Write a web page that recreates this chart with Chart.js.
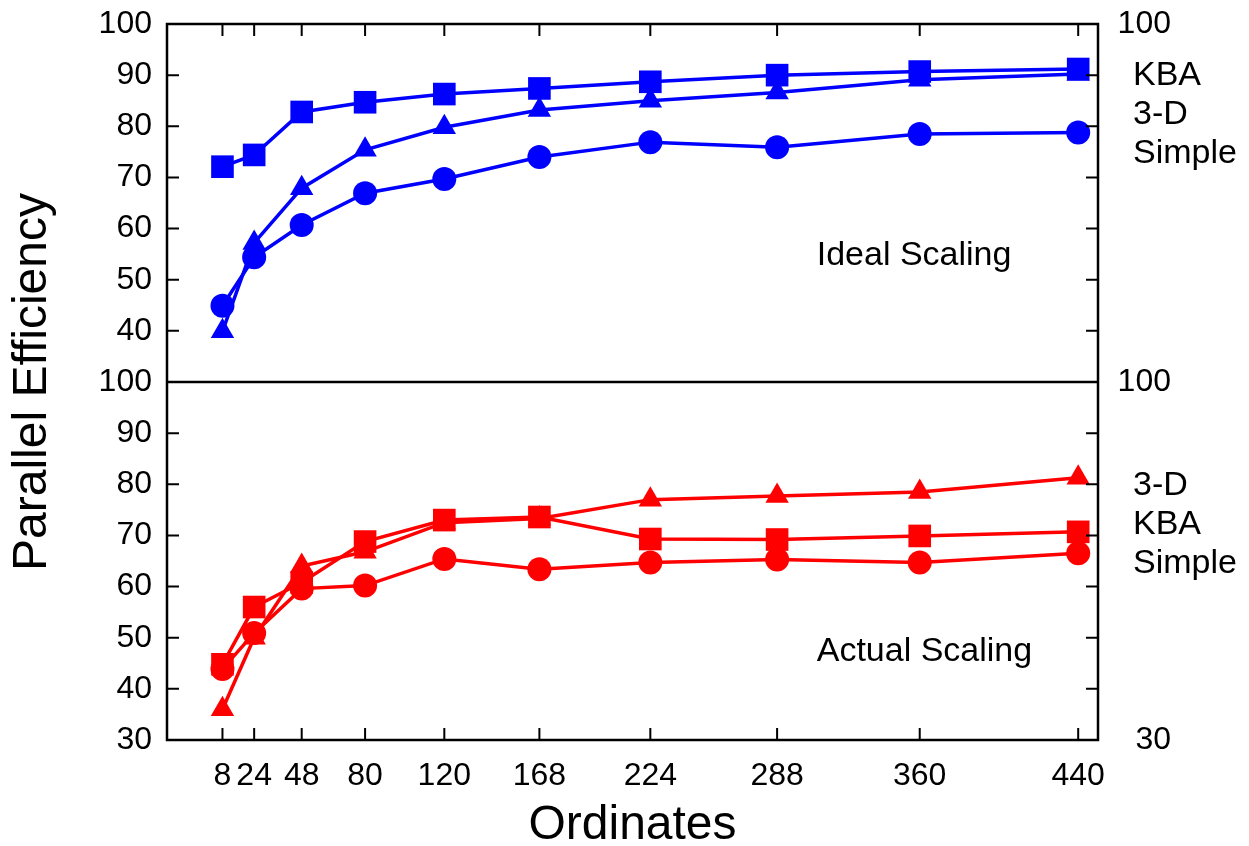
<!DOCTYPE html>
<html>
<head>
<meta charset="utf-8">
<script src="https://cdn.jsdelivr.net/npm/chart.js@4.4.1/dist/chart.umd.min.js"></script>
<style>
  html, body { margin: 0; padding: 0; background: #ffffff; }
  #wrap { width: 1249px; height: 846px; }
</style>
</head>
<body>
<div id="wrap"><canvas id="effChart" width="1249" height="846"></canvas></div>
<script>
// number of ordinates (x values shared by every series)
const ordinates = [8, 24, 48, 80, 120, 168, 224, 288, 360, 440];
const xTickValues = [8, 24, 48, 80, 120, 168, 224, 288, 360, 440];

// upper panel: ideal scaling
const idealKBA = [72.1, 74.4, 82.8, 84.7, 86.3, 87.4, 88.7, 90.0, 90.7, 91.2];
const ideal3D = [39.9, 57.2, 67.9, 75.4, 79.8, 83.2, 85.0, 86.6, 89.1, 90.2];
const idealSimple = [44.9, 54.4, 60.7, 66.9, 69.7, 74.0, 76.9, 75.9, 78.5, 78.8];

// lower panel: actual scaling
const actualKBA = [44.8, 56.0, 60.8, 68.8, 73.0, 73.6, 69.3, 69.2, 69.9, 70.7];
const actual3D = [36.0, 50.0, 64.0, 66.8, 72.5, 73.3, 77.0, 77.7, 78.5, 81.3];
const actualSimple = [43.9, 50.9, 59.6, 60.2, 65.4, 63.4, 64.7, 65.3, 64.7, 66.5];

const topLeftTicks = [40, 50, 60, 70, 80, 90, 100];
const bottomLeftTicks = [30, 40, 50, 60, 70, 80, 90, 100];
const topRightTicks = [100];
const bottomRightTicks = [30, 100];

const idealNames = ["KBA", "3-D", "Simple"];
const actualNames = ["3-D", "KBA", "Simple"];
const idealNote = "Ideal Scaling";
const actualNote = "Actual Scaling";

const blue = "#0000ff";
const red = "#ff0000";
const fontFamily = "\"Liberation Sans\", Arial, sans-serif";
Chart.defaults.font.family = fontFamily;
Chart.defaults.color = "#000000";

function series(values, color, style, radius, axis) {
  return {
    data: values.map((v, i) => ({ x: ordinates[i], y: v })),
    yAxisID: axis,
    borderColor: color,
    backgroundColor: color,
    borderWidth: 3.5,
    pointStyle: style,
    pointRadius: radius,
    pointBorderWidth: 0,
    pointBackgroundColor: color,
    tension: 0,
    fill: false
  };
}

function fixedTicks(values) {
  return (scale) => { scale.ticks = values.map((v) => ({ value: v })); };
}

const framePlugin = {
  id: "frame",
  afterDraw(chart) {
    const { ctx, chartArea: a, scales } = chart;
    const { x, yTop, yBot } = scales;
    const len = 12;
    ctx.save();
    ctx.strokeStyle = "#000000";
    ctx.lineWidth = 2.5;
    ctx.strokeRect(a.left, a.top, a.right - a.left, a.bottom - a.top);
    ctx.beginPath();
    ctx.moveTo(a.left, yTop.bottom);
    ctx.lineTo(a.right, yTop.bottom);
    ctx.stroke();

    // inward tick marks, mirrored on both sides
    ctx.lineWidth = 2;
    ctx.beginPath();
    x.ticks.forEach((t) => {
      const px = x.getPixelForValue(t.value);
      ctx.moveTo(px, a.bottom);
      ctx.lineTo(px, a.bottom - len);
      ctx.moveTo(px, a.top);
      ctx.lineTo(px, a.top + len);
    });
    [yTop, yBot].forEach((s) => {
      s.ticks.forEach((t) => {
        if (t.value <= s.min || t.value >= s.max) return;
        const py = s.getPixelForValue(t.value);
        ctx.moveTo(a.left, py);
        ctx.lineTo(a.left + len, py);
        ctx.moveTo(a.right, py);
        ctx.lineTo(a.right - len, py);
      });
    });
    ctx.stroke();

    ctx.fillStyle = "#000000";
    ctx.textBaseline = "middle";

    // y title spanning both panels
    ctx.save();
    ctx.font = "48px " + fontFamily;
    ctx.textAlign = "center";
    ctx.translate(33, (a.top + a.bottom) / 2);
    ctx.rotate(-Math.PI / 2);
    ctx.fillText("Parallel Efficiency", 0, 0);
    ctx.restore();

    ctx.font = "34px " + fontFamily;
    ctx.textAlign = "left";
    const noteX = x.getPixelForValue(308);
    ctx.fillText(idealNote, noteX, yTop.getPixelForValue(54.7));
    ctx.fillText(actualNote, noteX, yBot.getPixelForValue(47.3));

    const nameX = a.right + 35;
    idealNames.forEach((n, i) => ctx.fillText(n, nameX, yTop.top + 52 + i * 39));
    actualNames.forEach((n, i) => ctx.fillText(n, nameX, yBot.top + 104 + i * 39));
    ctx.restore();
  }
};

const tickFont = { size: 32 };
const yTickFont = { size: 32, lineHeight: 0.5 };

function leftAxis(ticks) {
  return {
    type: "linear",
    position: "left",
    stack: "left",
    stackWeight: 1,
    min: 30,
    max: 100,
    afterBuildTicks: fixedTicks(ticks),
    afterFit: (s) => { s.width = 167; },
    grid: { display: false, drawTicks: false },
    border: { display: false },
    ticks: { autoSkip: false, padding: 15, color: "#000000", font: yTickFont }
  };
}

function rightAxis(ticks) {
  return {
    type: "linear",
    position: "right",
    stack: "right",
    stackWeight: 1,
    min: 30,
    max: 100,
    afterBuildTicks: fixedTicks(ticks),
    afterFit: (s) => { s.width = 73; },
    grid: { display: false, drawTicks: false },
    border: { display: false },
    ticks: { autoSkip: false, padding: 0, crossAlign: "far", color: "#000000", font: yTickFont }
  };
}

new Chart(document.getElementById("effChart"), {
  type: "line",
  data: {
    datasets: [
      series(idealKBA, blue, "rect", 16, "yTop"),
      series(idealSimple, blue, "circle", 12, "yTop"),
      series(ideal3D, blue, "triangle", 13.5, "yTop"),
      series(actualKBA, red, "rect", 16, "yBot"),
      series(actualSimple, red, "circle", 12, "yBot"),
      series(actual3D, red, "triangle", 13.5, "yBot")
    ]
  },
  options: {
    responsive: false,
    animation: false,
    layout: { padding: { top: 24, left: 0, right: 78, bottom: 0 } },
    plugins: { legend: { display: false }, tooltip: { enabled: false } },
    scales: {
      x: {
        type: "linear",
        position: "bottom",
        min: -20,
        max: 450,
        afterBuildTicks: fixedTicks(xTickValues),
        afterFit: (s) => { s.height = 106; },
        grid: { display: false, drawTicks: false },
        border: { display: false },
        ticks: { autoSkip: false, maxRotation: 0, padding: 17, color: "#000000", font: tickFont },
        title: {
          display: true,
          text: "Ordinates",
          color: "#000000",
          font: { size: 48, lineHeight: 1 },
          padding: { top: 0, bottom: -4 }
        }
      },
      yBot: leftAxis(bottomLeftTicks),
      yTop: leftAxis(topLeftTicks),
      yTopR: rightAxis(topRightTicks),
      yBotR: rightAxis(bottomRightTicks)
    }
  },
  plugins: [framePlugin]
});
</script>
</body>
</html>
